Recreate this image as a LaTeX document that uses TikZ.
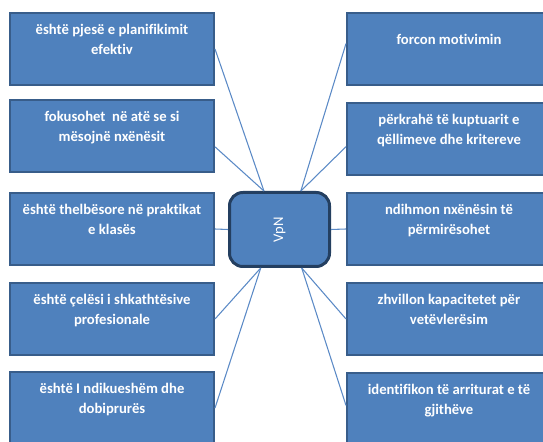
\documentclass[tikz,border=0pt]{standalone}
\usepackage{fontspec}
\setmainfont{Carlito}[Ligatures=NoCommon]
\definecolor{boxfill}{HTML}{4F81BD}
\definecolor{boxline}{HTML}{385D8A}
\definecolor{hubline}{HTML}{243F60}
\definecolor{linkline}{HTML}{5B8AC6}
\begin{document}
\begin{tikzpicture}[x=0.75pt, y=-0.75pt,
  item/.style={draw=boxline, line width=1.5pt, fill=boxfill, text=white, align=center,
    minimum width=153pt, minimum height=54pt, inner sep=0pt,
    font=\fontsize{11pt}{15pt}\selectfont\bfseries},
  hub/.style={draw=hubline, line width=2.25pt, fill=boxfill, text=white, rounded corners=10pt,
    minimum width=75pt, minimum height=55.5pt, inner sep=0pt,
    font=\fontsize{11pt}{13pt}\selectfont},
  link/.style={draw=linkline, line width=0.8pt}]
\useasboundingbox (0,0) rectangle (543,442);
\clip (0,0) rectangle (543,442);
% centre
\node[hub] (v) at (279.5,229.5) {\rotatebox{90}{VpN}\hspace{11pt}};
% left column
\node[item] (l1) at (112,49) {është pjesë e planifikimit\\efektiv\\~};
\node[item] (l2) at (112,136) {fokusohet~ në atë se si\\mësojnë nxënësit\\~};
\node[item] (l3) at (112,229) {është thelbësore në praktikat\\e klasës\\~};
\node[item] (l4) at (112,319) {është çelësi i shkathtësive\\profesionale\\~};
\node[item] (l5) at (112,408) {është I ndikueshëm dhe\\dobiprurës\\~};
% right column
\node[item] (r1) at (449,49) {forcon motivimin\\~};
\node[item] (r2) at (449,139.5) {përkrahë të kuptuarit e\\qëllimeve dhe kritereve\\~};
\node[item] (r3) at (449,229) {ndihmon nxënësin të\\përmirësohet\\~};
\node[item] (r4) at (449,319) {zhvillon kapacitetet për\\vetëvlerësim\\~};
\node[item] (r5) at (449,409) {identifikon të arriturat e të\\gjithëve\\~};
% connectors
\draw[link] (l1.east) -- (v.112);
\draw[link] (l2.-6) -- (v.112);
\draw[link] (l3.east) -- (v.west);
\draw[link] (l4.east) -- (v.244);
\draw[link] (l5.east) -- (v.244);
\draw[link] (r1.177) -- (v.61);
\draw[link] (r2.184) -- (v.61);
\draw[link] (r3.west) -- (v.east);
\draw[link] (r4.west) -- (v.300);
\draw[link] (r5.178) -- (v.300);
\end{tikzpicture}
\end{document}
